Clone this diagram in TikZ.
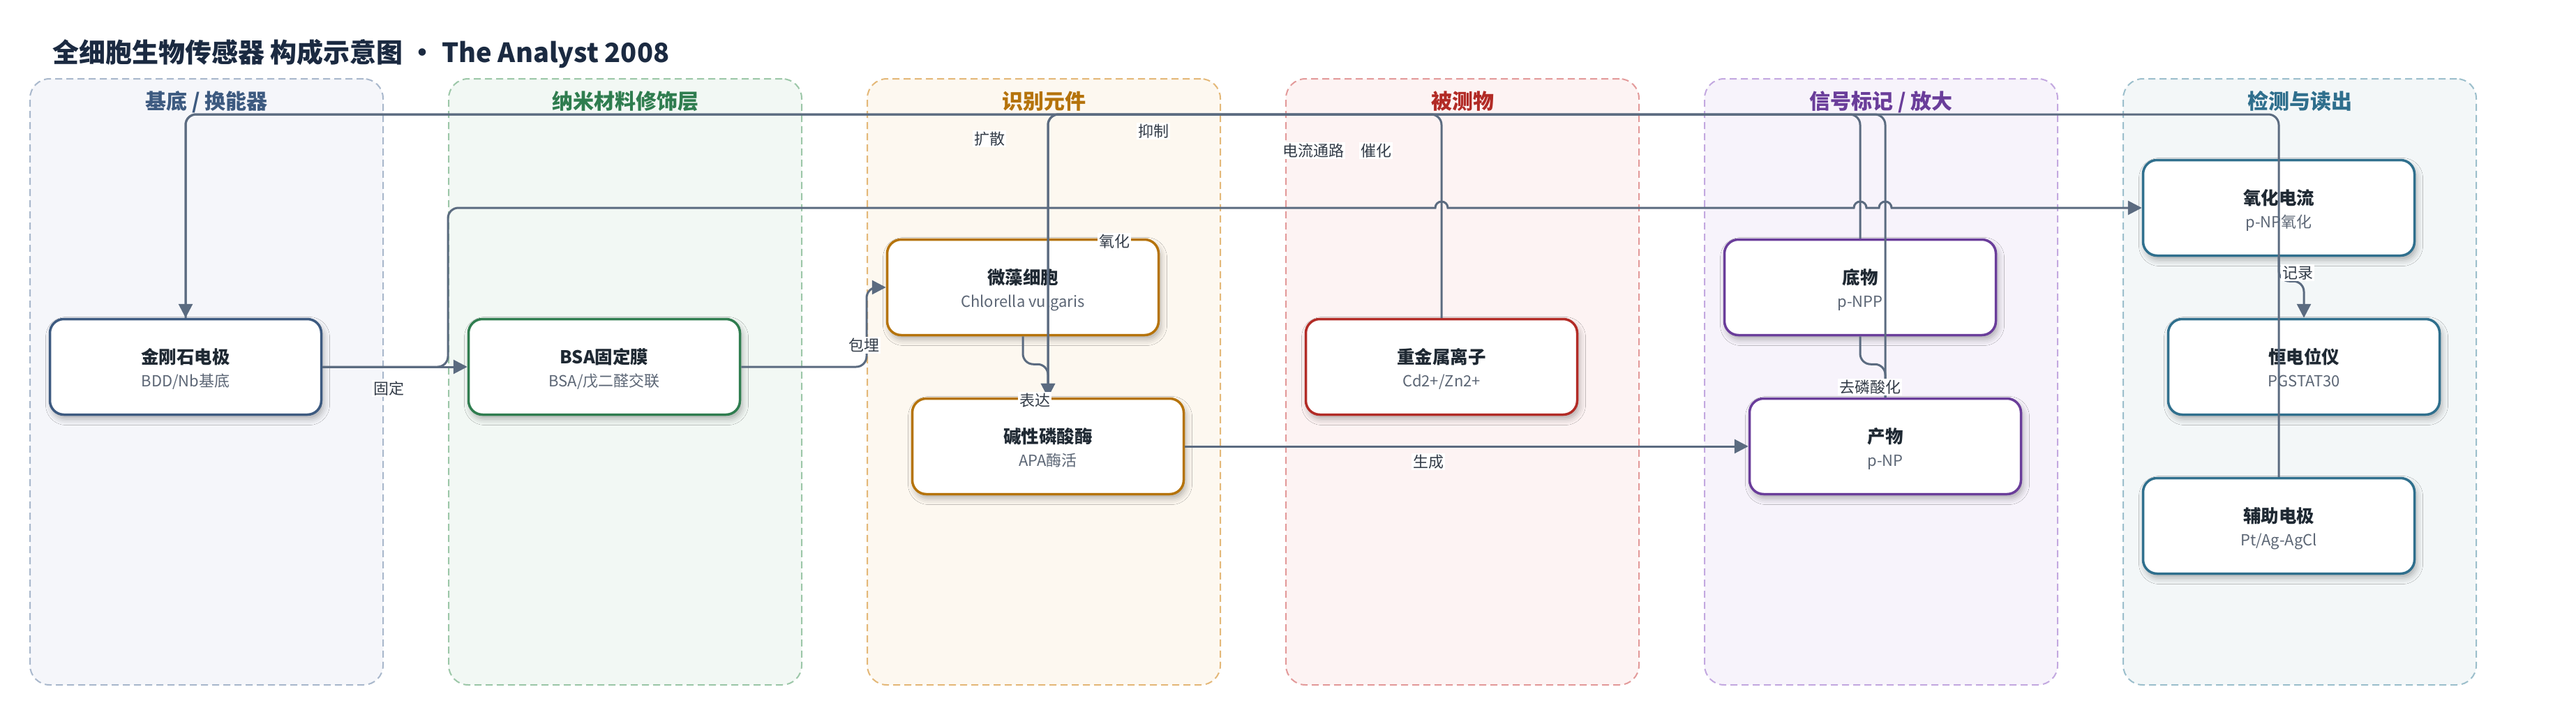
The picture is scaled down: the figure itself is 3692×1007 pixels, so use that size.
\documentclass[tikz,border=0pt]{standalone}
\usepackage{fontspec}
\setmainfont{Noto Sans CJK SC}
\usetikzlibrary{arrows.meta,shadows.blur,calc}

\definecolor{edgec}{HTML}{5B6B80}
\definecolor{maint}{HTML}{1B2A41}
\definecolor{titlec}{HTML}{1F2933}
\definecolor{subc}{HTML}{5C6675}
\definecolor{labc}{HTML}{333C48}
% column fills / borders / titles
\definecolor{cAf}{HTML}{F5F6FA}\definecolor{cAb}{HTML}{A9B8CC}\definecolor{cAt}{HTML}{3D5A80}
\definecolor{cBf}{HTML}{F2F8F4}\definecolor{cBb}{HTML}{9CC7A8}\definecolor{cBt}{HTML}{2F7D4F}
\definecolor{cCf}{HTML}{FDF8F0}\definecolor{cCb}{HTML}{E4B878}\definecolor{cCt}{HTML}{B5730B}
\definecolor{cDf}{HTML}{FDF3F3}\definecolor{cDb}{HTML}{E39A9A}\definecolor{cDt}{HTML}{B22B26}
\definecolor{cEf}{HTML}{F7F3FB}\definecolor{cEb}{HTML}{C3A8E0}\definecolor{cEt}{HTML}{6A3D9A}
\definecolor{cFf}{HTML}{F3F7F8}\definecolor{cFb}{HTML}{9CBFCC}\definecolor{cFt}{HTML}{2F6F8D}

\newcommand\mkbox[6]{%
  \node[nbox,draw=#4] (#1) at (#2,#3) {};
  \node[ntitle] (#1-t) at ([yshift=4.5pt]#1.center) {#5};
  \node[nsub] (#1-s) at ([yshift=-28.5pt]#1.center) {#6};}

\begin{document}
\begin{tikzpicture}[x=1pt,y=-1pt,
  colbox/.style={rounded corners=28pt, dash pattern=on 10pt off 6pt, line width=2pt,
    minimum width=506pt, minimum height=869pt, inner sep=0pt},
  coltitle/.style={anchor=base, inner sep=0pt, font=\fontsize{30}{36}\selectfont\bfseries},
  nbox/.style={line width=3.5pt, fill=white, rounded corners=20pt,
    minimum width=389pt, minimum height=137pt, inner sep=0pt,
    blur shadow={shadow xshift=3pt, shadow yshift=-6pt, shadow blur radius=9pt, shadow opacity=30}},
  ntitle/.style={anchor=base, inner sep=0pt, font=\fontsize{25.5}{30}\selectfont\bfseries, text=titlec},
  nsub/.style={anchor=base, inner sep=0pt, font=\fontsize{22}{26}\selectfont, text=subc},
  conn/.style={draw=edgec, line width=3pt, rounded corners=15pt},
  arr/.style={-{Triangle[length=20pt,width=20pt]}},
  elab/.style={fill=white, inner sep=2pt, font=\fontsize{22}{26}\selectfont, text=labc}
]
\useasboundingbox[fill=white] (0,0) rectangle (3692,1007);

% title
\node[anchor=base west, inner sep=0pt, font=\fontsize{38}{44}\selectfont\bfseries, text=maint]
  (title) at (75,89) {全细胞生物传感器 构成示意图 · The Analyst 2008};

% columns
\node[colbox, draw=cAb, fill=cAf] (col1) at (296,547.5) {};
\node[colbox, draw=cBb, fill=cBf] (col2) at (896,547.5) {};
\node[colbox, draw=cCb, fill=cCf] (col3) at (1496,547.5) {};
\node[colbox, draw=cDb, fill=cDf] (col4) at (2096,547.5) {};
\node[colbox, draw=cEb, fill=cEf] (col5) at (2696,547.5) {};
\node[colbox, draw=cFb, fill=cFf] (col6) at (3296,547.5) {};
\node[coltitle, text=cAt] (col1-t) at (296,156) {基底 / 换能器};
\node[coltitle, text=cBt] (col2-t) at (896,156) {纳米材料修饰层};
\node[coltitle, text=cCt] (col3-t) at (1496,156) {识别元件};
\node[coltitle, text=cDt] (col4-t) at (2096,156) {被测物};
\node[coltitle, text=cEt] (col5-t) at (2696,156) {信号标记 / 放大};
\node[coltitle, text=cFt] (col6-t) at (3296,156) {检测与读出};

% nodes
\mkbox{jingang}{266}{526}{cAt}{金刚石电极}{BDD/Nb基底}
\mkbox{bsa}{866}{526}{cBt}{BSA固定膜}{BSA/戊二醛交联}
\mkbox{weizao}{1466}{412}{cCt}{微藻细胞}{Chlorella vulgaris}
\mkbox{jianxing}{1502}{640}{cCt}{碱性磷酸酶}{APA酶活}
\mkbox{zhongjin}{2066}{526}{cDt}{重金属离子}{Cd2+/Zn2+}
\mkbox{diwu}{2666}{412}{cEt}{底物}{p-NPP}
\mkbox{chanwu}{2702}{640}{cEt}{产物}{p-NP}
\mkbox{oxid}{3266}{298}{cFt}{氧化电流}{p-NP氧化}
\mkbox{hengdian}{3302}{526}{cFt}{恒电位仪}{PGSTAT30}
\mkbox{fuzhu}{3266}{754}{cFt}{辅助电极}{Pt/Ag-AgCl}

\coordinate (top) at (0,164);

% connectors
\draw[conn,arr] (jingang.east) -- (bsa.west);
\draw[conn,arr] (jingang.east) -- (642,526) -- (642,298) -- (1000,298) [sharp corners]
  -- (2057,298) arc[start angle=180,end angle=360,radius=9]
  -- (2657,298) arc[start angle=180,end angle=360,radius=9]
  -- (2693,298) arc[start angle=180,end angle=360,radius=9]
  -- (oxid.west);
\draw[conn,arr] (bsa.east) -- (1242,526) -- (1242,412) -- (weizao.west);
\draw[conn,arr] (weizao.south) -- ++(0,40) -| (jianxing.north);
\draw[conn,arr] (zhongjin.north) -- (zhongjin.north |- top) -| (jianxing.north);
\draw[conn] (jianxing.north) -- (jianxing.north |- top) -| (diwu.north);
\draw[conn,arr] (jianxing.east) -- (chanwu.west);
\draw[conn] (diwu.south) -- ++(0,40) -| (chanwu.north);
\draw[conn] (chanwu.north) -- (chanwu.north |- top) -| (jingang.north);
\draw[conn,arr] (fuzhu.north) -- (fuzhu.north |- top) -| (jingang.north);
\draw[conn,arr] (oxid.south) -- ++(0,35) -| (hengdian.north);

% connector labels
\node[elab] (l-guding) at (557,557) {固定};
\node[elab] (l-baomai) at (1238,495) {包埋};
\node[elab] (l-biaoda) at (1483,574) {表达};
\node[elab] (l-yizhi) at (1653,188) {抑制};
\node[elab] (l-kuosan) at (1418,199) {扩散};
\node[elab] (l-dianliu) at (1882,216) {电流通路};
\node[elab] (l-cuihua) at (1972,216) {催化};
\node[elab] (l-yanghua) at (1597,346) {氧化};
\node[elab] (l-shengcheng) at (2047,662) {生成};
\node[elab] (l-qulin) at (2680,555) {去磷酸化};
\node[elab] (l-jilu) at (3293,391) {记录};
\end{tikzpicture}
\end{document}
